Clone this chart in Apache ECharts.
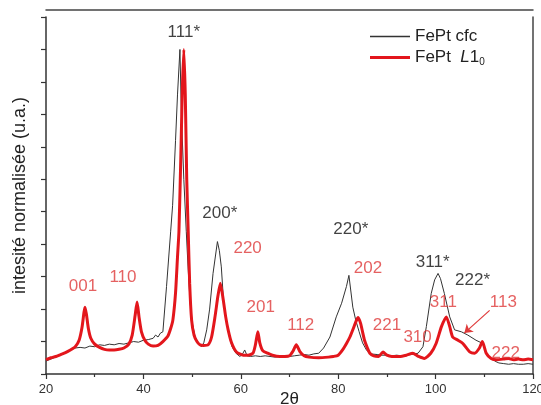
<!DOCTYPE html>
<html>
<head>
<meta charset="utf-8">
<script src="https://cdn.jsdelivr.net/npm/echarts@6/dist/echarts.min.js"></script>
<style>html,body{margin:0;padding:0;background:#fff;}#c{width:541px;height:405px;}</style>
</head>
<body>
<div id="c"></div>
<script>
// FePt cfc (black)
var thetaCfc = [20,21,22,23,24,25,25.5,26,27,28,29,30,31,32,33,34,35,36,37,38,39,40,41,42,42.5,43,43.5,44.0,44.75,45.6,46.0,46.6,47.0,47.5,47.8,48.3,48.8,49.2,49.6,50.0,50.6,51.2,51.9,52.4,53.0,53.6,54.3,55.2,55.6,56.0,56.4,56.6,57.0,57.5,58.2,59.0,59.8,60.3,60.8,61.3,62,63,64,65,66,67,68,69,70,71,72,73,74,75,76,77,78.3,79.6,80.7,81.7,82.2,83.0,83.6,84.3,85.0,85.8,86.6,88,89,90,91,92,93,94,95,96.4,97.4,98.1,99.1,99.8,100.5,101.0,101.8,102.9,103.9,105.3,106.6,108.3,109.7,110.7,112.4,113,114,115,116,117,118,119,120];
var intCfc = [0.20,0.23,0.26,0.29,0.33,0.37,0.40,0.40,0.41,0.40,0.43,0.42,0.45,0.44,0.46,0.45,0.47,0.46,0.48,0.50,0.49,0.52,0.53,0.55,0.60,0.57,0.63,0.65,1.35,2.2,2.6,3.6,4.3,5.0,4.0,3.0,2.2,1.6,1.1,0.8,0.58,0.48,0.42,0.48,0.68,1.0,1.55,2.04,1.9,1.65,1.19,1.03,0.85,0.62,0.42,0.32,0.27,0.30,0.37,0.28,0.27,0.28,0.27,0.28,0.27,0.26,0.27,0.26,0.27,0.28,0.29,0.30,0.29,0.31,0.32,0.40,0.57,0.88,1.09,1.35,1.52,1.03,0.83,0.65,0.48,0.37,0.31,0.30,0.29,0.29,0.28,0.29,0.28,0.29,0.30,0.32,0.42,0.73,1.24,1.45,1.55,1.47,1.24,0.88,0.68,0.65,0.60,0.52,0.47,0.27,0.19,0.17,0.16,0.15,0.16,0.15,0.15,0.16,0.15];
// FePt L1_0 (red)
var thetaL10 = [20,21,22,23,24,25,26,26.8,27.4,27.8,28.0,28.3,28.7,29.2,30,31,32,33,34,35,36,37,37.7,38.3,38.7,39.1,39.6,40.3,41,42,43,44,45,45.6,46.05,46.6,47.0,47.3,47.7,48.0,48.3,48.6,48.9,49.2,49.5,49.9,50.4,51.0,51.6,52.3,53.3,54.0,54.7,55.3,55.8,56.4,56.9,57.4,58.1,59.1,60.5,61.5,62.5,63.0,63.5,63.9,64.5,65.5,66.5,68,69,70,70.7,71.4,72.1,73,74,76,78,79,80,80.9,81.7,82.4,83.2,83.7,84.1,84.6,85.0,85.4,86.0,86.5,87.3,88.3,89.2,90,91,92.6,94,95.3,96.5,97.7,99,100.1,101.2,102.2,102.9,103.5,104.6,105.6,107.0,108.0,109.0,109.6,110.4,111.4,112.5,114,115,116,117,118,119,120];
var intL10 = [0.22,0.25,0.27,0.30,0.33,0.37,0.42,0.52,0.72,0.95,1.03,0.92,0.70,0.55,0.46,0.41,0.38,0.37,0.37,0.38,0.40,0.46,0.60,0.90,1.11,0.88,0.65,0.52,0.46,0.43,0.44,0.50,0.58,0.70,0.83,1.25,1.8,2.2,3.4,4.4,5.0,4.3,3.0,2.2,1.4,0.83,0.60,0.50,0.45,0.44,0.45,0.57,0.88,1.2,1.40,1.14,0.88,0.68,0.48,0.34,0.29,0.29,0.32,0.45,0.65,0.48,0.36,0.32,0.29,0.27,0.27,0.28,0.35,0.45,0.35,0.28,0.26,0.25,0.26,0.27,0.29,0.37,0.47,0.57,0.72,0.82,0.87,0.78,0.65,0.52,0.40,0.32,0.28,0.27,0.34,0.29,0.27,0.27,0.29,0.32,0.27,0.24,0.32,0.47,0.73,0.88,0.73,0.57,0.52,0.47,0.34,0.32,0.40,0.50,0.32,0.24,0.22,0.23,0.24,0.22,0.23,0.22,0.23,0.22];
// peak annotations
var peakText  = ['111*','200*','220*','311*','222*','001','110','220','201','112','202','221','310','311','113','222'];
var peakTheta = [48.3,55.7,82.6,99.4,107.6,27.6,35.8,61.4,64.1,72.3,86.1,90.0,96.3,101.6,113.9,114.4];
var peakInt   = [5.26,2.48,2.23,1.72,1.45,1.35,1.49,1.94,1.03,0.75,1.63,0.75,0.57,1.11,1.11,0.32];
var peakIsCfc = [1,1,1,1,1,0,0,0,0,0,0,0,0,0,0,0];
var xTicks = [20,40,60,80,100,120];

function pairs(a,b){return a.map(function(v,i){return [v,b[i]];});}
var RED = '#e3161c', LRED = '#df3a3a';
var FONT = 'Liberation Sans, Arial';
var annData = peakText.map(function(t,i){
  return {name:t, value:[peakTheta[i],peakInt[i]], label:{color: peakIsCfc[i] ? '#111' : LRED}};
});

var chart = echarts.init(document.getElementById('c'));
chart.setOption({
  animation:false,
  grid:{left:46,right:8,top:17,bottom:31,containLabel:false,outerBoundsMode:'none'},
  xAxis:[{
    type:'value', min:xTicks[0], max:xTicks[xTicks.length-1], interval:20,
    name:'2θ', nameLocation:'middle', nameGap:17, nameMoveOverlap:false,
    nameTextStyle:{fontFamily:FONT, fontSize:17, color:'#222', verticalAlign:'top'},
    axisLine:{lineStyle:{color:'#333',width:1.5}},
    axisTick:{length:5,lineStyle:{color:'#333',width:1.2}},
    minorTick:{show:true,splitNumber:2,length:3,lineStyle:{color:'#333',width:1.2}},
    axisLabel:{fontFamily:FONT,fontSize:13,color:'#333',margin:9},
    splitLine:{show:false}
  },{
    type:'value', position:'top', offset:7, min:20, max:120,
    axisLine:{show:true,onZero:false,lineStyle:{color:'#444',width:1.5}},
    axisTick:{show:false}, axisLabel:{show:false}, splitLine:{show:false}
  }],
  yAxis:[{
    type:'value', min:0, max:5.5, interval:1,
    name:'intesité normalisée (u.a.)', nameLocation:'middle', nameGap:17, nameRotate:90, nameMoveOverlap:false,
    nameTextStyle:{fontFamily:FONT, fontSize:18, color:'#222'},
    axisLine:{show:true,lineStyle:{color:'#333',width:1.5}},
    axisTick:{show:true,length:5,lineStyle:{color:'#333',width:1.2}},
    minorTick:{show:true,splitNumber:2,length:5,lineStyle:{color:'#333',width:1.2}},
    axisLabel:{show:false}, splitLine:{show:false}
  },{
    type:'value', position:'right', min:0, max:5.5,
    axisLine:{show:true,onZero:false,lineStyle:{color:'#444',width:1.5}},
    axisTick:{show:false}, axisLabel:{show:false}, splitLine:{show:false}
  }],
  legend:[{
    data:['FePt cfc'], orient:'vertical', left:370, top:28, padding:0, icon:'rect',
    itemWidth:40, itemHeight:1.5, itemGap:5,
    textStyle:{fontFamily:FONT,fontSize:17,color:'#222'}
  },{
    data:['FePt L1_0'], orient:'vertical', left:370, top:49, padding:0, icon:'rect',
    itemWidth:40, itemHeight:3, itemGap:5,
    formatter:function(){return '{a|FePt  }{i|L}{a|1}{s|0}';},
    textStyle:{fontFamily:FONT,fontSize:17,color:'#222',
      rich:{a:{fontFamily:FONT,fontSize:17,color:'#222'},
            i:{fontFamily:FONT,fontSize:17,fontStyle:'italic',color:'#222'},
            s:{fontFamily:FONT,fontSize:10,color:'#222',padding:[10,0,0,0]}}}
  }],
  series:[{
    name:'FePt cfc', type:'line', data:pairs(thetaCfc,intCfc), showSymbol:false,
    lineStyle:{color:'#333',width:1}, itemStyle:{color:'#333'}, z:2
  },{
    name:'FePt L1_0', type:'line', data:pairs(thetaL10,intL10), showSymbol:false, smooth:0.2,
    lineStyle:{color:RED,width:3}, itemStyle:{color:RED}, z:3
  },{
    name:'annotations', type:'scatter', data:annData, symbolSize:1,
    itemStyle:{color:'rgba(0,0,0,0)'}, z:5,
    label:{show:true, position:'inside', formatter:'{b}', fontFamily:FONT, fontSize:17},
    markLine:{
      silent:true, symbol:['none','arrow'], symbolSize:8,
      lineStyle:{color:LRED,width:1.2,type:'solid'}, label:{show:false},
      data:[[{coord:[111.1,0.98]},{coord:[105.9,0.63]}]]
    }
  }]
});
</script>
</body>
</html>
